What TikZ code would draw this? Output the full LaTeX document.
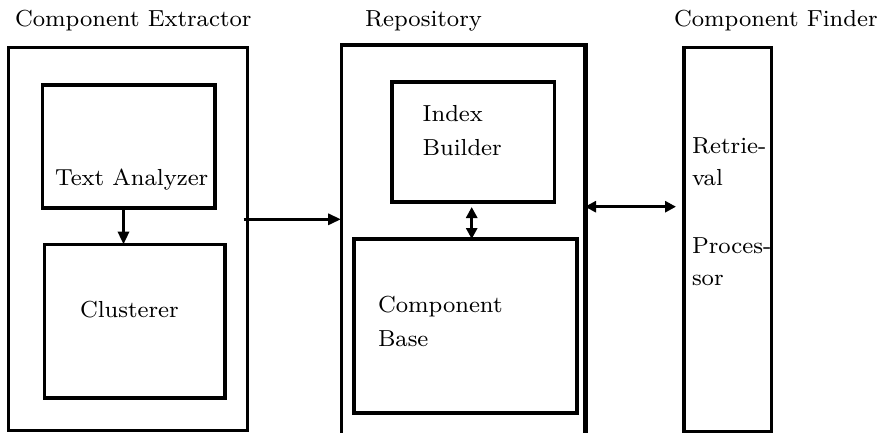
\documentclass[tikz,border=0pt]{standalone}
\usepackage{graphicx}
\usetikzlibrary{arrows.meta}
\begin{document}
\begin{tikzpicture}[x=1pt,y=-1pt,
  box/.style={draw, line width=3.8pt, inner sep=0pt, outer sep=0pt},
  txt/.style={anchor=base west, inner sep=0pt, outer sep=0pt},
  arr/.style={line width=3.4pt, -{Triangle[length=13pt,width=11pt]}},
  dbl/.style={line width=3.4pt, {Triangle[length=11pt,width=11pt]}-{Triangle[length=11pt,width=11pt]}}]
\newcommand{\lbl}[1]{\scalebox{2.9}{\fontsize{8}{10}\selectfont #1}}
\useasboundingbox (0,0) rectangle (877,433);

% outer blocks
\node[box, minimum width=239pt, minimum height=383pt] (ce) at (128,239) {};
\node[inner sep=0pt, outer sep=0pt, minimum width=244pt, minimum height=387.7pt] (repo) at (463,239.15) {};
\node[box, minimum width=87.5pt, minimum height=384pt] (cf) at (727.75,239.5) {};

% repository frame, open at the bottom
\draw[line width=3pt] (repo.south west) -- ([yshift=1.8pt]repo.north west);
\draw[line width=3.8pt] (repo.north west) -- (repo.north east);
\draw[line width=5pt] ([yshift=1.9pt]repo.north east) -- (repo.south east);

% inner blocks
\node[box, minimum width=172.5pt, minimum height=123pt] (ta) at (128.75,146.5) {};
\node[box, minimum width=180.2pt, minimum height=153.5pt] (cl) at (134.6,321.25) {};
\node[box, minimum width=162.5pt, minimum height=120.3pt] (ib) at (473.25,141.85) {};
\node[box, minimum width=222.4pt, minimum height=174pt] (cb) at (465.5,326) {};

% titles
\node[txt] (tce) at (15,27) {\lbl{Component Extractor}};
\node[txt] (trepo) at (365,27) {\lbl{Repository}};
\node[txt] (tcf) at (674,27) {\lbl{Component Finder}};

% block texts
\node[txt] (tta) at (55,185) {\lbl{Text Analyzer}};
\node[txt] (tcl) at (80,317) {\lbl{Clusterer}};
\node[txt] (tib1) at (422.7,121.7) {\lbl{Index}};
\node[txt] (tib2) at (422.7,155) {\lbl{Builder}};
\node[txt] (tcb1) at (378,312) {\lbl{Component}};
\node[txt] (tcb2) at (378,346.7) {\lbl{Base}};
\node[txt] (trp1) at (692,153) {\lbl{Retrie-}};
\node[txt] (trp2) at (692,185) {\lbl{val}};
\node[txt] (trp3) at (692,253) {\lbl{Proces-}};
\node[txt] (trp4) at (692,285) {\lbl{sor}};

% connectors
\coordinate (ax) at (123.5,0);
\draw[arr] (ta.south -| ax) -- (cl.north -| ax);
\coordinate (ay) at (0,219.3);
\draw[arr, shorten <=-4pt] (ce.east |- ay) -- (repo.west |- ay);
\coordinate (bx) at (471.7,0);
\draw[dbl, shorten <=5pt] (ib.south -| bx) -- (cb.north -| bx);
\coordinate (cy) at (0,206.7);
\draw[dbl, shorten >=8pt] (repo.east |- cy) -- (cf.west |- cy);
\end{tikzpicture}
\end{document}
